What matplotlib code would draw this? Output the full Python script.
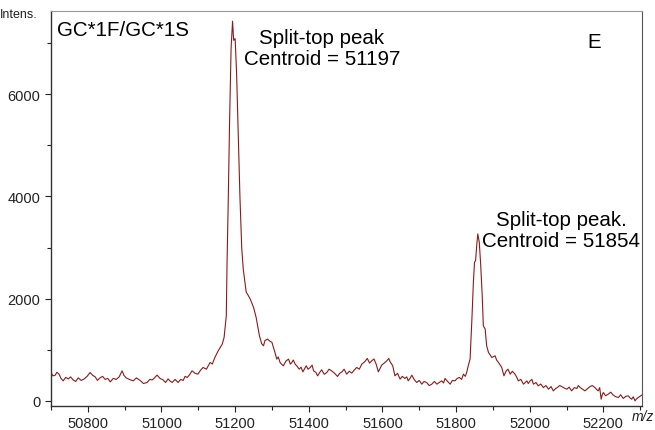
import numpy as np
import matplotlib
matplotlib.use('Agg')
import matplotlib.pyplot as plt
from matplotlib.ticker import MultipleLocator

plt.rcParams['font.family'] = ['Liberation Sans', 'DejaVu Sans']

# spectrum (m/z, intensity), in three stretches
mz_a = [50700, 50705, 50711, 50716, 50722, 50727, 50733, 50740, 50747, 50753,
        50760, 50767, 50774, 50782, 50790, 50798, 50806, 50813, 50820, 50826,
        50833, 50840, 50847, 50854, 50861, 50869, 50877, 50885, 50893, 50898,
        50904, 50913, 50923, 50932, 50942, 50951, 50961, 50968, 50975, 50981,
        50988, 50996, 51004, 51011, 51018, 51023, 51029, 51037, 51045, 51052,
        51059, 51064, 51070, 51076, 51083, 51091, 51099, 51106, 51113, 51122,
        51132, 51138, 51145]
int_a = [556, 490, 500, 560, 520, 440, 392, 460, 430, 470,
         410, 380, 450, 400, 430, 480, 556, 500, 470, 400,
         450, 480, 420, 440, 372, 440, 420, 470, 588, 500,
         450, 420, 392, 450, 400, 340, 360, 420, 410, 450,
         504, 440, 412, 360, 430, 390, 360, 420, 360, 420,
         400, 480, 458, 510, 588, 540, 523, 600, 654, 620,
         752, 720, 850]

mz_b = [51154, 51165, 51170, 51176, 51178, 51181, 51185, 51189, 51193, 51196,
        51200, 51204, 51208, 51213, 51218, 51222, 51230, 51236, 51241, 51250,
        51257, 51266, 51272, 51277, 51281, 51288, 51293, 51300, 51304, 51308,
        51313, 51317, 51322, 51326, 51331, 51338, 51345, 51350, 51354, 51358,
        51363, 51368, 51374, 51379, 51384, 51388, 51393, 51398, 51404, 51409,
        51413, 51419, 51424, 51430, 51435, 51442, 51449, 51455, 51462, 51470,
        51478, 51484, 51490, 51496, 51503, 51510, 51517, 51523, 51530, 51537,
        51544, 51551, 51559, 51565, 51571, 51577, 51583, 51589, 51594, 51598,
        51605, 51612, 51617, 51621, 51628, 51634, 51641, 51648, 51654, 51661,
        51666, 51670, 51675, 51680, 51686, 51693, 51700, 51707, 51713, 51720,
        51727, 51734, 51741, 51748, 51754, 51761, 51766, 51770, 51777, 51784,
        51790, 51797, 51803, 51809, 51815, 51820, 51825, 51829]
int_b = [980, 1111, 1242, 1666, 2700, 3800, 5500, 6900, 7430, 7056,
         7089, 6400, 5300, 4000, 2973, 2581, 2130, 2058, 1993, 1830,
         1634, 1274, 1120, 1078, 1180, 1209, 1176, 1144, 1046, 950,
         817, 860, 752, 720, 686, 780, 817, 720, 752, 800,
         719, 680, 621, 660, 568, 620, 686, 620, 654, 700,
         588, 560, 490, 560, 608, 520, 556, 620, 588, 540,
         478, 540, 568, 620, 523, 580, 543, 600, 654, 620,
         719, 760, 830, 740, 784, 820, 719, 568, 640, 700,
         740, 784, 830, 765, 686, 490, 540, 425, 480, 439,
         470, 392, 440, 504, 420, 360, 400, 327, 380, 360,
         300, 327, 380, 327, 360, 392, 350, 439, 380, 327,
         400, 392, 440, 458, 420, 523, 480, 560]

mz_c = [51833, 51838, 51843, 51847, 51850, 51853, 51856, 51859, 51863, 51867,
        51871, 51874, 51879, 51883, 51888, 51897, 51906, 51910, 51915, 51920,
        51924, 51930, 51936, 51941, 51947, 51953, 51960, 51965, 51969, 51976,
        51983, 51988, 51992, 51996, 52001, 52006, 52010, 52017, 52023, 52030,
        52037, 52044, 52051, 52058, 52064, 52070, 52075, 52081, 52087, 52094,
        52101, 52107, 52114, 52121, 52128, 52132, 52137, 52143, 52150, 52157,
        52164, 52170, 52177, 52182, 52186, 52190, 52194, 52197, 52200, 52206,
        52213, 52220, 52227, 52234, 52241, 52247, 52254, 52261, 52268, 52272,
        52277, 52281, 52286, 52290, 52295, 52304]
int_c = [686, 817, 1601, 2320, 2712, 2744, 3038, 3267, 3104, 2646,
         2058, 1470, 1405, 1078, 948, 850, 882, 800, 752, 700,
         654, 490, 588, 620, 523, 580, 523, 460, 392, 420,
         327, 360, 392, 340, 392, 420, 327, 360, 294, 330,
         261, 300, 229, 280, 196, 240, 261, 300, 281, 250,
         229, 270, 196, 260, 243, 300, 261, 230, 196, 240,
         281, 300, 261, 220, 196, 260, 33, 120, 164, 100,
         131, 170, 112, 80, 67, 120, 47, 90, 98, 60,
         33, 80, 0, 40, 67, 112]

mz = mz_a + mz_b + mz_c
intens = int_a + int_b + int_c

fig = plt.figure(figsize=(6.55, 4.31), dpi=100)
ax = fig.add_axes([0.0779, 0.0557, 0.9023, 0.9165])
ax.plot(mz, intens, color='#8b1a1a', linewidth=0.8)

ax.set_xlim(50700, 52305)
ax.set_ylim(-100, 7630)
ax.xaxis.set_major_locator(MultipleLocator(200))
ax.xaxis.set_minor_locator(MultipleLocator(100))
ax.yaxis.set_major_locator(MultipleLocator(2000))
ax.yaxis.set_minor_locator(MultipleLocator(1000))
ax.tick_params(labelsize=10.5, colors='#222222', length=4, width=0.8)
ax.tick_params(which='minor', length=3, width=0.8, colors='#222222')

for s in ['left', 'bottom']:
    ax.spines[s].set_color('#333333')
    ax.spines[s].set_linewidth(1.0)
ax.spines['top'].set_color('#999999')
ax.spines['right'].set_color('#555555')

ax.text(0.01, 0.954, 'GC*1F/GC*1S', transform=ax.transAxes, fontsize=14.8,
        ha='left', va='center')
ax.text(0.919, 0.924, 'E', transform=ax.transAxes, fontsize=14.8,
        ha='center', va='center')
ax.text(0.4585, 0.906, 'Split-top peak\nCentroid = 51197', transform=ax.transAxes,
        fontsize=14.8, ha='center', va='center', linespacing=1.15)
ax.text(0.863, 0.446, 'Split-top peak.\nCentroid = 51854', transform=ax.transAxes,
        fontsize=14.8, ha='center', va='center', linespacing=1.15)

fig.text(0.0, 0.965, 'Intens.', fontsize=9, ha='left', va='center', color='#222222')
fig.text(0.998, 0.032, 'm/z', fontsize=10, style='italic', ha='right', va='center',
         color='#222222')

fig.savefig('out.png', dpi=100)
